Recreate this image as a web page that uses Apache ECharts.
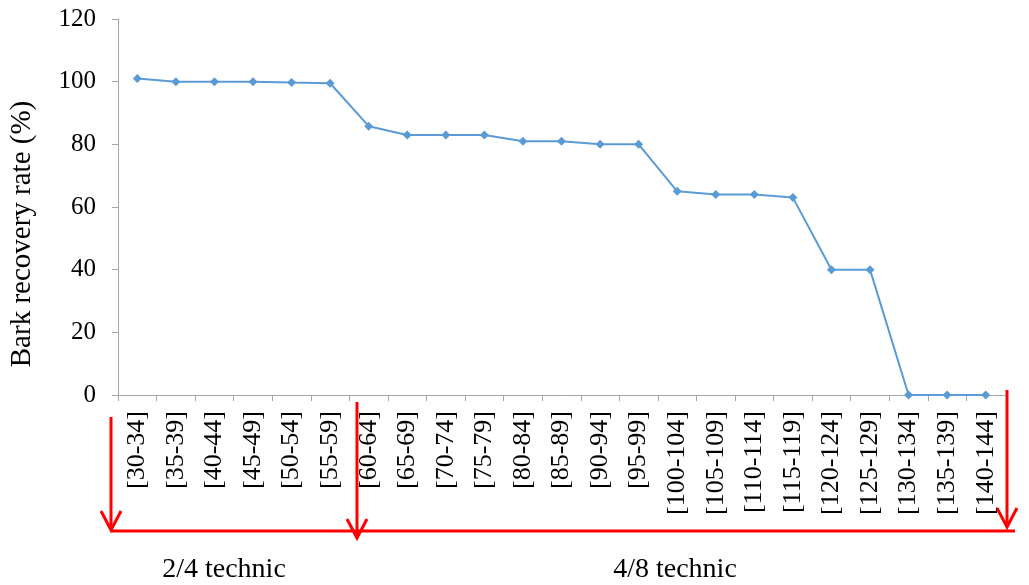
<!DOCTYPE html>
<html><head><meta charset="utf-8">
<script src="https://cdn.jsdelivr.net/npm/echarts@6/dist/echarts.min.js"></script>
<style>html,body{margin:0;padding:0;background:#fff}#c{width:1029px;height:585px}</style>
</head><body><div id="c"></div>
<script>
var categories = ["[30-34]","[35-39]","[40-44]","[45-49]","[50-54]","[55-59]","[60-64]","[65-69]","[70-74]","[75-79]","[80-84]","[85-89]","[90-94]","[95-99]","[100-104]","[105-109]","[110-114]","[115-119]","[120-124]","[125-129]","[130-134]","[135-139]","[140-144]"];
var recoveryRate = [101,100,100,100,99.7,99.5,85.8,83,83,83,81,81,80,80,65,64,64,63,40,40,0,0,0];
var yTicks = {min:0, max:120, interval:20};
var yTitle = "Bark recovery rate (%)";
var groupLabels = ["2/4 technic","4/8 technic"];

var FONT = '"Liberation Serif","Times New Roman",serif';
var chart = echarts.init(document.getElementById('c'), null, {renderer:'canvas'});
var red = '#ff0000';
function arrow(x, y1, y2) {
  return [
    {type:'line', shape:{x1:x,y1:y1,x2:x,y2:y2}, style:{stroke:red,lineWidth:3}},
    {type:'polyline', shape:{points:[[x-10,y2-19],[x,y2],[x+10,y2-19]]}, style:{stroke:red,lineWidth:3,fill:null}}
  ];
}
var graphics = [].concat(
  arrow(111,417,530),
  arrow(357,402,538),
  arrow(1007,390,527),
  [{type:'line', shape:{x1:111,y1:531,x2:1015,y2:531}, style:{stroke:red,lineWidth:3}},
   {type:'text', style:{text:groupLabels[0], x:224, y:570, textAlign:'center', textVerticalAlign:'middle', font:'28px '+FONT, fill:'#000'}},
   {type:'text', style:{text:groupLabels[1], x:675, y:570, textAlign:'center', textVerticalAlign:'middle', font:'28px '+FONT, fill:'#000'}},
   {type:'text', x:22, y:234, rotation:Math.PI/2, style:{text:yTitle, x:0, y:0, textAlign:'center', textVerticalAlign:'middle', font:'29px '+FONT, fill:'#000'}}]
);
chart.setOption({
  animation:false,
  grid:{left:118, right:24, top:19, bottom:190, containLabel:false},
  xAxis:{type:'category', data:categories, boundaryGap:true,
    axisLine:{lineStyle:{color:'#a6a6a6',width:1}},
    axisTick:{show:true, alignWithLabel:false, length:6, lineStyle:{color:'#a6a6a6'}},
    axisLabel:{rotate:90, interval:0, fontFamily:FONT, fontSize:26, color:'#000', margin:16}},
  yAxis:{type:'value', min:yTicks.min, max:yTicks.max, interval:yTicks.interval,
    axisLine:{show:true, lineStyle:{color:'#a6a6a6'}},
    axisTick:{show:true, length:6, lineStyle:{color:'#a6a6a6'}},
    splitLine:{show:false},
    axisLabel:{fontFamily:FONT, fontSize:25, color:'#000', margin:22}},
  series:[{type:'line', data:recoveryRate, symbol:'diamond', symbolSize:9,
    lineStyle:{color:'#5b9bd5', width:2}, itemStyle:{color:'#5b9bd5'}}],
  graphic:graphics
});
</script></body></html>
